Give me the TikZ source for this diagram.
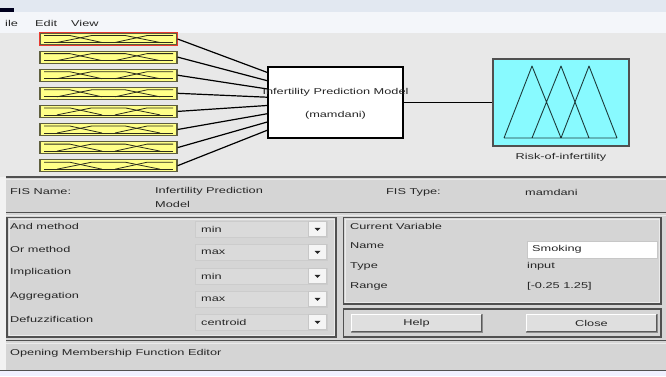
\documentclass[tikz,border=0pt]{standalone}
\usepackage{fontspec}
\setmainfont[FakeStretch=1.5]{Liberation Sans}
\usetikzlibrary{calc}

\definecolor{topband}{HTML}{E2E8F1}
\definecolor{menubg}{HTML}{F4F6FA}
\definecolor{diagbg}{HTML}{E8E8E8}
\definecolor{panelbg}{HTML}{D5D5D5}
\definecolor{edge}{HTML}{505050}
\definecolor{txt}{HTML}{262626}
\definecolor{inyellow}{HTML}{FFFF88}
\definecolor{inedge}{HTML}{5E5E3E}
\definecolor{mfdark}{HTML}{2C2C1C}
\definecolor{outcyan}{HTML}{88FAFF}
\definecolor{outmf}{HTML}{1E3C3C}
\definecolor{selred}{HTML}{E83A30}
\definecolor{fieldbg}{HTML}{DADADA}
\definecolor{btnbg}{HTML}{DFDFDF}

\tikzset{
  lbl/.style={anchor=west, inner sep=0pt, text=txt},
  ctr/.style={inner sep=0pt, text=txt},
  inbox/.style={draw=inedge, fill=inyellow, line width=1.2pt,
    minimum width=137pt, minimum height=12pt, inner sep=0pt},
  mfline/.style={draw=mfdark, line width=0.8pt, line join=round},
  modelbox/.style={draw=black, fill=white, line width=1.4pt,
    minimum width=135pt, minimum height=71pt, inner sep=0pt},
  outbox/.style={draw=edge, fill=outcyan, line width=1.1pt,
    minimum width=136pt, minimum height=87pt, inner sep=0pt},
  conn/.style={draw=black, line width=1.2pt},
  darkrule/.style={draw=edge, line width=1.3pt},
  lightrule/.style={draw=white!92!black, line width=0.9pt},
  frame/.style={draw=edge, line width=1.2pt},
  ddfield/.style={draw=white!80!black, fill=fieldbg, line width=0.5pt,
    minimum width=132pt, minimum height=16pt, inner sep=0pt},
  ddbtn/.style={draw=white!78!black, fill=white!96!black, line width=0.5pt,
    minimum width=18pt, minimum height=15pt, inner sep=0pt},
  pushbtn/.style={draw=white!55!black, fill=btnbg, line width=0.8pt,
    minimum width=131pt, minimum height=18pt, inner sep=0pt, text=txt},
  editbox/.style={draw=white!78!black, fill=white, line width=0.6pt,
    minimum width=130pt, minimum height=17pt, inner sep=0pt}
}

\begin{document}
\begin{tikzpicture}[x=1pt, y=-1pt, font=\fontsize{8.5}{10}\selectfont]
\useasboundingbox (0,0) rectangle (666,376);

% window chrome and backgrounds
\fill[topband] (0,0) rectangle (666,12);
\fill[black!80!blue!60!black] (0,8) rectangle (14,12);
\fill[menubg] (0,12) rectangle (666,33);
\fill[diagbg] (0,33) rectangle (666,177);
\fill[panelbg] (0,177) rectangle (666,371);
\fill[white!95!black] (0,177) rectangle (6,376);
\fill[white!94!blue] (0,371) rectangle (666,376);

% menu bar
\node[lbl, text=black!85] at (5,23) {ile};
\node[lbl, text=black!85] at (35,23) {Edit};
\node[lbl, text=black!85] at (71,23) {View};

% input variables
\foreach \i in {1,...,8}{
  \pgfmathsetmacro\cy{39+18.1*(\i-1)}
  \node[inbox] (in\i) at (108.5,\cy) {};
  \draw[mfline] (44,\cy-3.5) -- (69.8,\cy-3.5) -- (102,\cy+3.5);
  \draw[mfline] (56.9,\cy+3.5) -- (91.7,\cy-3.5) -- (125.3,\cy-3.5) -- (160.1,\cy+3.5);
  \draw[mfline] (115,\cy+3.5) -- (147.2,\cy-3.5) -- (173,\cy-3.5);
  \draw[mfline] (44,\cy+3.5) -- (173,\cy+3.5);
}
\draw[draw=selred, line width=1.7pt] (in1.north west) rectangle (in1.south east);

% rule block
\node[modelbox] (model) at (335.5,102.5) {};
\node[ctr] at (335.5,92) {Infertility Prediction Model};
\node[ctr] at (335.5,115) {(mamdani)};

% output variable
\node[outbox] (out) at (561,102.5) {};
\draw[draw=outmf, line width=0.9pt, line join=round]
  (504,138) -- (532,66) -- (561,138)
  (532,138) -- (561,66) -- (589,138)
  (561,138) -- (589,66) -- (617,138)
  (504,138) -- (617,138);
\node[ctr] at (561,157) {Risk-of-infertility};

% connectors
\foreach \i in {1,...,8}{
  \pgfmathsetmacro\fr{0.085+0.114*(\i-1)}
  \draw[conn] (in\i.east) -- ($(model.north west)!\fr!(model.south west)$);
}
\draw[conn] (model.east) -- (out.west);

% FIS name / type row
\begin{scope}
  \clip (0,180) rectangle (666,210.5);
  \node[lbl] at (10,192) {FIS Name:};
  \node[lbl] at (155,191) {Infertility Prediction};
  \node[lbl] at (155,204) {Model};
  \node[lbl] at (386,192) {FIS Type:};
  \node[lbl] at (525,192) {mamdani};
\end{scope}

% separating rules
\draw[darkrule] (6,177) -- (666,177);
\draw[lightrule] (6,179.5) -- (666,179.5);
\draw[darkrule] (6,212.5) -- (666,212.5);
\draw[lightrule] (6,215) -- (666,215);
\draw[darkrule] (6,340.5) -- (666,340.5);
\draw[lightrule] (6,343) -- (666,343);
\draw[darkrule] (0,370.5) -- (666,370.5);

% method panel
\draw[frame] (7,217.5) rectangle (336,337);
\draw[white!92!black, line width=0.6pt] (8.8,219.3) rectangle (334.2,335.2);
\foreach \lab/\val/\ly/\fy [count=\k] in {And method/min/226/229, Or method/max/249/252,
    Implication/min/272/276, Aggregation/max/296/299, Defuzzification/centroid/319/322}{
  \node[lbl] at (10,\ly) {\lab};
  \node[ddfield] (dd\k) at (261,\fy) {};
  \node[lbl] at (201,\fy) {\val};
  \node[ddbtn] (db\k) at (317.5,\fy) {};
  \fill[black!85] ($(db\k.center)+(-3,-1.2)$) -- ($(db\k.center)+(3,-1.2)$)
    -- ($(db\k.center)+(0,1.8)$) -- cycle;
}

% current variable panel
\draw[frame] (343.5,217.5) rectangle (661,304);
\draw[white!92!black, line width=0.6pt] (345.3,219.3) rectangle (659.2,302.2);
\node[lbl] at (350,226) {Current Variable};
\node[lbl] at (350,246) {Name};
\node[lbl] at (350,266) {Type};
\node[lbl] at (350,286) {Range};
\node[editbox] (name) at (592,249.5) {};
\node[lbl] at (532,249.5) {Smoking};
\node[lbl] at (527,266) {input};
\node[lbl] at (527,286) {[-0.25 1.25]};

% button panel
\draw[frame] (343.5,309) rectangle (661,337);
\node[pushbtn] (help) at (416.5,323) {Help};
\node[pushbtn] (close) at (591.5,323) {Close};
\foreach \b in {help,close}{
  \draw[white, line width=0.8pt] ($(\b.south west)+(1,-1)$) -- ($(\b.north west)+(1,1)$) -- ($(\b.north east)+(-1,1)$);
  \draw[black!65, line width=1pt] ($(\b.north east)+(-0.5,1)$) -- ($(\b.south east)+(-0.5,-0.5)$) -- ($(\b.south west)+(1,-0.5)$);
}

% status line
\node[lbl] at (10,353) {Opening Membership Function Editor};
\end{tikzpicture}
\end{document}
